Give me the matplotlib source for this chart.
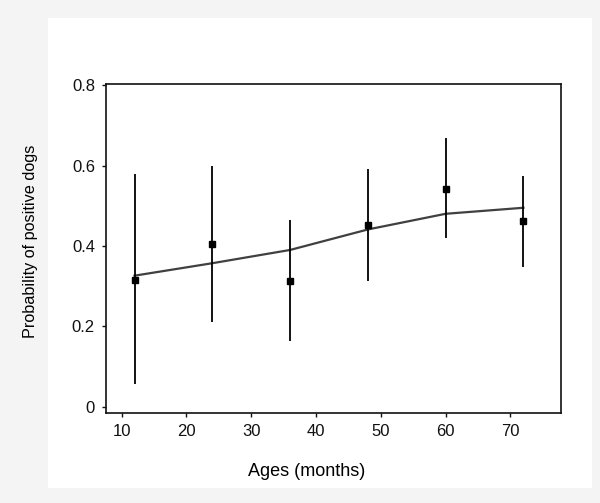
import numpy as np
import matplotlib.pyplot as plt
from matplotlib.patches import Rectangle

plt.rcParams['font.family'] = ['Liberation Sans', 'DejaVu Sans']

# observed proportions with confidence intervals
ages = [12, 24, 36, 48, 60, 72]
prob = [0.315, 0.404, 0.312, 0.451, 0.542, 0.462]
ci_low = [0.056, 0.21, 0.163, 0.313, 0.42, 0.348]
ci_high = [0.578, 0.600, 0.464, 0.591, 0.668, 0.574]

# fitted curve
fit_ages = [12, 24, 36, 48, 60, 72]
fit_prob = [0.326, 0.357, 0.390, 0.441, 0.480, 0.495]

x_ticks = [10, 20, 30, 40, 50, 60, 70]
y_ticks = [0, 0.2, 0.4, 0.6, 0.8]
y_labels = ['0', '0.2', '0.4', '0.6', '0.8']

fig = plt.figure(figsize=(6, 5.03), dpi=100, facecolor='#f4f4f4')
# white page area of the scan
fig.add_artist(Rectangle((0.08, 0.03), 0.907, 0.934, transform=fig.transFigure,
                         facecolor='white', edgecolor='none', zorder=-5))
ax = fig.add_axes([106 / 600, 1 - 412.7 / 503, 455 / 600, 328.7 / 503])
ax.set_zorder(2)

prob = np.array(prob)
yerr = [prob - np.array(ci_low), np.array(ci_high) - prob]
ax.errorbar(ages, prob, yerr=yerr, fmt='s', color='black', ms=4.2,
            elinewidth=1.3, capsize=0, zorder=3)
ax.plot(fit_ages, fit_prob, color='#404040', lw=1.6, zorder=2)

ax.set_xlim(7.6, 77.8)
ax.set_ylim(-0.015, 0.803)
ax.set_xticks(x_ticks)
ax.set_yticks(y_ticks)
ax.set_yticklabels(y_labels)
ax.tick_params(labelsize=12, length=3, width=1, pad=5, colors='#111111')

for s in ax.spines.values():
    s.set_linewidth(1.2)
    s.set_color('#111111')

ax.set_xlabel('Ages (months)', fontsize=13)
ax.set_ylabel('Probability of positive dogs', fontsize=11.7)
ax.xaxis.set_label_coords(0.441, -0.153)
ax.yaxis.set_label_coords(-0.149, 0.522)

fig.savefig('out.png', dpi=100, facecolor=fig.get_facecolor())
